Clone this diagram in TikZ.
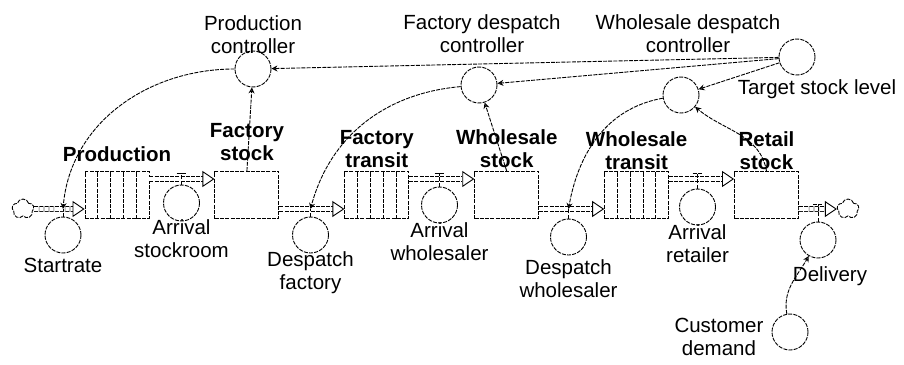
\documentclass[tikz,border=0pt]{standalone}
\usepackage{fontspec}
\setmainfont{Liberation Sans}
\usetikzlibrary{positioning,calc,arrows.meta,shapes.symbols}

\tikzset{
  sketch/.style={dash pattern=on 4pt off 1.2pt, line width=0.9pt},
  level/.style={rectangle, draw, sketch, minimum width=64pt, minimum height=47pt, inner sep=0pt},
  conveyor/.style={level, path picture={
      \foreach \k in {1,...,4}
        \draw[sketch] ([xshift=\k*12.8pt]path picture bounding box.south west) -- ([xshift=\k*12.8pt]path picture bounding box.north west);}},
  aux/.style={circle, draw, sketch, minimum size=36pt, inner sep=0pt},
  cloudy/.style={cloud, cloud puffs=5, draw, sketch, minimum width=22pt, minimum height=20pt, inner sep=0pt},
  flow/.style={sketch, double, double distance=4pt, -{Triangle[open, length=12pt, width=16pt]}},
  link/.style={sketch, -{Stealth[open, length=6pt, width=6pt]}},
  stem/.style={sketch},
  boldname/.style={font=\fontsize{20.5}{23}\selectfont\bfseries}
}

\begin{document}
\begin{tikzpicture}[x=1pt, y=-1pt,
  font=\fontsize{20.5}{23}\selectfont,
  node distance=65pt,
  every label/.style={align=center, inner sep=1pt}
]
  \useasboundingbox (0,0) rectangle (904,364);

  % levels and conveyors
  \node[conveyor, label={[boldname, label distance=8pt]above:Production}] (production) at (117,195) {};
  \node[level, right=of production, label={[boldname, label distance=9pt]above:Factory\\stock}] (factorystock) {};
  \node[conveyor, right=of factorystock, label={[boldname, label distance=2pt]above:Factory\\transit}] (factorytransit) {};
  \node[level, right=of factorytransit, label={[boldname, label distance=2pt]above:Wholesale\\stock}] (wholesalestock) {};
  \node[conveyor, right=of wholesalestock, label={[boldname]above:Wholesale\\transit}] (wholesaletransit) {};
  \node[level, right=of wholesaletransit, label={[boldname]above:Retail\\stock}] (retailstock) {};

  % source and sink
  \node[cloudy] (source) at (23,209) {};
  \node[cloudy] (sink) at (848,209) {};

  % auxiliaries
  \node[aux, label={[label distance=4pt]below:Startrate}] (startrate) at (63,235) {};
  \node[aux, label={[label distance=-3pt]below:Arrival\\stockroom}] (arrstock) at (181.5,203) {};
  \node[aux, label={[label distance=-3pt]below:Despatch\\factory}] (despfactory) at (310.5,235) {};
  \node[aux, label={[label distance=-2pt]below:Arrival\\wholesaler}] (arrwholesale) at (439.5,205) {};
  \node[aux, label={[label distance=3pt]below:Despatch\\wholesaler}] (despwholesale) at (568.5,237) {};
  \node[aux, label={[label distance=-2pt]below:Arrival\\retailer}] (arrretail) at (697.5,207) {};
  \node[aux, label={[label distance=7pt, xshift=12pt]below:Delivery}] (delivery) at (818,240) {};
  \node[aux, label={[label distance=7pt, yshift=-5pt]left:Customer\\demand}] (custdemand) at (790,332) {};
  \node[aux, label={[label distance=-4pt]above:Production\\controller}] (prodctrl) at (253,69) {};
  \node[aux, label={[label distance=13pt, xshift=3pt]above:Factory despatch\\controller}] (facctrl) at (479,85) {};
  \node[aux, label={[label distance=23pt, xshift=7pt]above:Wholesale despatch\\controller}] (whctrl) at (681,95) {};
  \node[aux, label={[label distance=3pt, xshift=20pt]below:Target stock level}] (target) at (797,57) {};

  % valves
  \coordinate (vstart) at (63,209);
  \coordinate (vfactory) at (310.5,209);
  \coordinate (vwholesale) at (568.5,209);
  \coordinate (vdelivery) at (818,204);
  \coordinate (vstockroom) at (181.5,173);
  \coordinate (vwholesaler) at (439.5,173);
  \coordinate (vretailer) at (697.5,173);

  % flows
  \draw[flow] (source) -- (production.west |- source);
  \draw[flow] ([yshift=16pt]production.east) -- ([yshift=16pt]factorystock.west);
  \draw[flow] ([yshift=-14pt]factorystock.east) -- ([yshift=-14pt]factorytransit.west);
  \draw[flow] ([yshift=16pt]factorytransit.east) -- ([yshift=16pt]wholesalestock.west);
  \draw[flow] ([yshift=-14pt]wholesalestock.east) -- ([yshift=-14pt]wholesaletransit.west);
  \draw[flow] ([yshift=16pt]wholesaletransit.east) -- ([yshift=16pt]retailstock.west);
  \draw[flow] ([yshift=-14pt]retailstock.east) -- (sink);

  % rate stems
  \draw[stem] (startrate) -- (vstart);
  \draw[stem] (despfactory) -- (vfactory);
  \draw[stem] (despwholesale) -- (vwholesale);
  \draw[stem] (delivery) -- (vdelivery);
  \draw[stem] ([xshift=-5pt]vdelivery) -- ([xshift=5pt]vdelivery);
  \draw[stem] (arrstock) -- (vstockroom);
  \draw[stem] ([xshift=-5pt]vstockroom) -- ([xshift=5pt]vstockroom);
  \draw[stem] (arrwholesale) -- (vwholesaler);
  \draw[stem] ([xshift=-5pt]vwholesaler) -- ([xshift=5pt]vwholesaler);
  \draw[stem] (arrretail) -- (vretailer);
  \draw[stem] ([xshift=-5pt]vretailer) -- ([xshift=5pt]vretailer);

  % information links
  \draw[link] (target) -- (prodctrl);
  \draw[link] (target) -- (facctrl);
  \draw[link] (target) -- (whctrl);
  \draw[link] (factorystock.north) -- (prodctrl);
  \draw[link] (wholesalestock.north) -- (facctrl);
  \draw[link] (retailstock.north) to[out=100, in=-40] (whctrl);
  \draw[link] (prodctrl) to[out=180, in=85] (vstart);
  \draw[link] (facctrl) to[out=185, in=75] (vfactory);
  \draw[link] (whctrl) to[out=190, in=80] (vwholesale);
  \draw[link] (custdemand) to[out=100, in=-120] (delivery);
\end{tikzpicture}
\end{document}
